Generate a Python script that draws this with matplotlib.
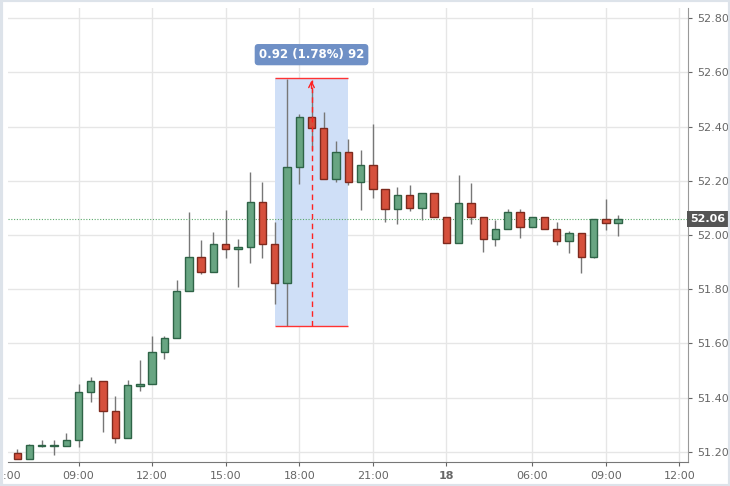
import matplotlib
matplotlib.use("Agg")
import matplotlib.pyplot as plt
from matplotlib.patches import Rectangle, FancyBboxPatch

opens  = [51.195,51.175,51.223,51.222,51.223,51.244,51.422,51.463,51.351,51.25,51.445,51.45,51.568,51.619,51.794,51.918,51.862,51.967,51.947,51.957,52.123,51.967,51.822,52.25,52.435,52.395,52.207,52.307,52.196,52.257,52.171,52.095,52.146,52.099,52.156,52.065,51.972,52.117,52.068,51.985,52.021,52.085,52.028,52.068,52.021,51.978,52.006,51.918,52.059,52.045]
closes = [51.175,51.225,51.223,51.223,51.245,51.422,51.463,51.351,51.25,51.447,51.45,51.57,51.619,51.794,51.918,51.862,51.967,51.947,51.957,52.123,51.967,51.822,52.25,52.435,52.395,52.207,52.307,52.196,52.257,52.171,52.095,52.146,52.099,52.156,52.065,51.972,52.117,52.068,51.985,52.021,52.085,52.028,52.068,52.021,51.978,52.006,51.918,52.059,52.045,52.058]
highs  = [51.21,51.23,51.245,51.245,51.27,51.45,51.478,51.463,51.406,51.465,51.539,51.628,51.628,51.834,52.084,51.982,52.012,52.094,51.984,52.233,52.196,52.049,52.574,52.446,52.54,52.452,52.347,52.353,52.313,52.409,52.171,52.178,52.183,52.156,52.156,52.065,52.221,52.193,52.068,52.055,52.097,52.097,52.068,52.068,52.048,52.015,52.006,52.059,52.132,52.074]
lows   = [51.175,51.175,51.22,51.19,51.223,51.22,51.385,51.275,51.234,51.25,51.426,51.45,51.542,51.619,51.794,51.855,51.862,51.917,51.809,51.898,51.916,51.746,51.666,52.187,52.313,52.207,52.196,52.185,52.093,52.135,52.048,52.039,52.087,52.055,52.065,51.972,51.972,52.039,51.938,51.959,52.021,51.988,52.028,52.021,51.963,51.935,51.859,51.915,52.018,51.997]
tick_pos = [5, 11, 17, 23, 29, 35, 42, 48, 54]
tick_labels = ["09:00","12:00","15:00","18:00","21:00","18","06:00","09:00","12:00"]
yticks = [51.2,51.4,51.6,51.8,52.0,52.2,52.4,52.6,52.8]
last_price = 52.06
rng_hi, rng_lo = 52.58, 51.665

fig = plt.figure(figsize=(7.3,4.86), dpi=100)
fig.patch.set_facecolor("white")
ax = fig.add_axes([8/730, 24/486, 680/730, 454/486])
ax.set_xlim(-0.75, 54.7)
ax.set_ylim(51.163, 52.837)
ax.set_facecolor("white")
for s in ["top","left"]:
    ax.spines[s].set_visible(False)
ax.spines["right"].set_color("#999999")
ax.spines["bottom"].set_color("#777777")
ax.set_xticks(tick_pos)
ax.set_xticklabels(tick_labels)
for lbl in ax.get_xticklabels():
    if lbl.get_text()=="18": lbl.set_fontweight("bold")
ax.yaxis.tick_right()
ax.set_yticks(yticks)
ax.set_yticklabels([f"{v:.2f}" for v in yticks])
ax.tick_params(colors="#666666", labelsize=8, length=3)
ax.grid(True, color="#e6e6e6", lw=1)
ax.set_axisbelow(True)
ax.text(-1, 51.163-0.035, "06:00", fontsize=8, color="#666666", ha="center", va="top", clip_on=False)

# highlighted range
ax.add_patch(Rectangle((21.0, rng_lo), 6.0, rng_hi-rng_lo, facecolor="#cfdff7", edgecolor="none", zorder=1))
ax.hlines([rng_hi, rng_lo], 21.0, 27.0, color="#ff3333", lw=1, zorder=4)

w = 0.6
for i,(o,c,h,l) in enumerate(zip(opens,closes,highs,lows)):
    up = c >= o
    fc = "#68a582" if up else "#d6503c"
    ec = "#2e6447" if up else "#7e2a1e"
    ax.vlines(i, l, h, color="#777777", lw=1, zorder=2)
    b = max(abs(c-o), 0.004)
    ax.add_patch(Rectangle((i-w/2, min(o,c)), w, b, facecolor=fc, edgecolor=ec, lw=1, zorder=3))

ax.axhline(last_price, color="#5aa86a", lw=0.8, ls=(0,(1,1.5)), zorder=2)
ax.text(1.003, last_price, "52.06", transform=ax.get_yaxis_transform(), fontsize=8, color="white",
        fontweight="bold", va="center", ha="left", bbox=dict(boxstyle="square,pad=0.25", fc="#555555", ec="none"))

ax.vlines(24, rng_lo, rng_hi-0.01, color="#ff2222", lw=1, ls=(0,(4,3)), zorder=5)
ax.annotate("", xy=(24, rng_hi), xytext=(24, rng_hi-0.05),
            arrowprops=dict(arrowstyle="->", color="#ff2222", lw=1), zorder=5)
ax.text(24, 52.665, "0.92 (1.78%) 92", fontsize=8.5, color="white", fontweight="bold", ha="center", va="center",
        bbox=dict(boxstyle="round,pad=0.35,rounding_size=0.3", fc="#6f90c6", ec="none"), zorder=6)

fig.add_artist(Rectangle((0.5/730, 0.5/486), 729/730, 485/486, transform=fig.transFigure,
                         fill=False, ec="#dde3ea", lw=3))
fig.savefig("out.png", dpi=100)
